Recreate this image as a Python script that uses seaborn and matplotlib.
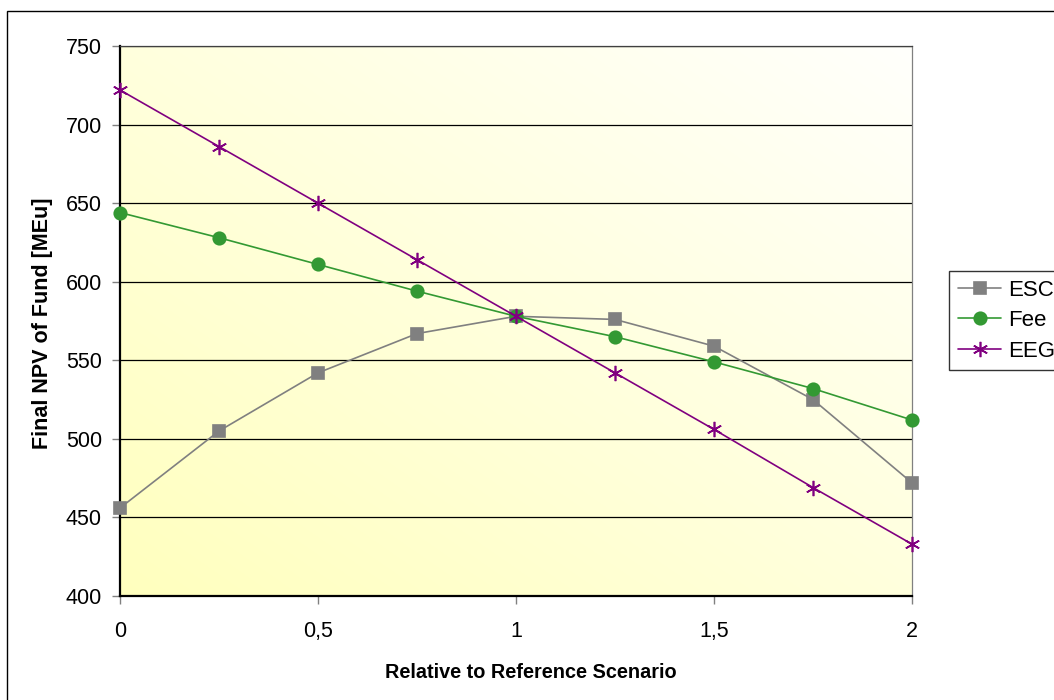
import numpy as np
import pandas as pd
import matplotlib
matplotlib.use("Agg")
import matplotlib.pyplot as plt
from matplotlib.patches import Rectangle
from matplotlib.lines import Line2D
import seaborn as sns

# Sensitivity factor relative to the reference scenario
factor = [0, 0.25, 0.5, 0.75, 1.0, 1.25, 1.5, 1.75, 2.0]

# Final NPV of fund [MEu] per sensitivity parameter
esc = [456, 505, 542, 567, 578, 576, 559, 525, 472]
fee = [644, 628, 611, 594, 578, 565, 549, 532, 512]
eeg = [722, 686, 650, 614, 578, 542, 506, 469, 433]

series_names = ["ESC", "Fee", "EEG"]
xtick_values = [0, 0.5, 1, 1.5, 2]
xtick_labels = ["0", "0,5", "1", "1,5", "2"]
ytick_values = [400, 450, 500, 550, 600, 650, 700, 750]

df = pd.DataFrame({
    "factor": factor * 3,
    "npv": esc + fee + eeg,
    "series": [n for n in series_names for _ in factor],
})

sns.set_theme(style="white")
plt.rcParams["font.family"] = ["Liberation Sans", "DejaVu Sans"]
plt.rcParams["text.color"] = "black"
plt.rcParams["axes.labelcolor"] = "black"
plt.rcParams["xtick.color"] = "black"
plt.rcParams["ytick.color"] = "black"

fig = plt.figure(figsize=(10.54, 7.0), dpi=100)
ax = fig.add_axes([120 / 1054, 1 - 596 / 700, (912 - 120) / 1054, (596 - 46) / 700])

# Diagonal yellow-to-white fill of the plot area
n = 256
gx, gy = np.meshgrid(np.linspace(0, 1, n), np.linspace(0, 1, n))
t = (gx + gy) / 2.0
c0 = np.array([255, 255, 190]) / 255.0
c1 = np.array([255, 255, 252]) / 255.0
img = c0[None, None, :] * (1 - t[..., None]) + c1[None, None, :] * t[..., None]
ax.imshow(img, extent=[0, 1, 0, 1], transform=ax.transAxes, origin="lower",
          aspect="auto", zorder=0, interpolation="bilinear")

styles = {
    "ESC": dict(color="#808080", marker="s", ms=8),
    "Fee": dict(color="#339933", marker="o", ms=9),
    "EEG": dict(color="#800080", marker=(6, 2, 0), ms=11),
}

handles = []
for name in series_names:
    st = styles[name]
    sub = df[df["series"] == name]
    sns.lineplot(data=sub, x="factor", y="npv", ax=ax, color=st["color"],
                 marker=st["marker"], markersize=st["ms"],
                 markeredgecolor=st["color"], markerfacecolor=st["color"],
                 markeredgewidth=1.2, linewidth=1.2, legend=False, zorder=5,
                 clip_on=False)
    handles.append(Line2D([0], [0], color=st["color"], marker=st["marker"],
                          markersize=st["ms"], markeredgecolor=st["color"],
                          markerfacecolor=st["color"], markeredgewidth=1.2,
                          linewidth=1.2))

ax.set_xlim(0, 2)
ax.set_ylim(400, 750)
ax.set_xticks(xtick_values)
ax.set_xticklabels(xtick_labels)
ax.set_yticks(ytick_values)
ax.grid(False)
for v in ytick_values[1:]:
    ax.axhline(v, color="black", lw=0.9, zorder=1)

ax.tick_params(axis="both", which="major", direction="out", length=6, width=1,
               color="#808080", labelcolor="black", labelsize=15.5, pad=7,
               left=True, bottom=True)
ax.tick_params(axis="x", pad=12)

for side in ["left", "bottom"]:
    ax.spines[side].set_color("black")
    ax.spines[side].set_linewidth(1.6)
ax.spines["top"].set_color("#404040")
ax.spines["top"].set_linewidth(0.9)
ax.spines["right"].set_color("#808080")
ax.spines["right"].set_linewidth(0.9)
for s in ax.spines.values():
    s.set_zorder(4)

ax.set_xlabel("Relative to Reference Scenario", fontsize=14.3, fontweight="bold")
ax.set_ylabel("Final NPV of Fund [MEu]", fontsize=15.5, fontweight="bold")
ax.xaxis.set_label_coords(0.519, -0.121)
ax.yaxis.set_label_coords(-0.085, 0.496)

leg = fig.legend(handles, series_names, loc="upper left",
                 bbox_to_anchor=(949 / 1054, 1 - 271 / 700),
                 bbox_transform=fig.transFigure, frameon=True, fancybox=False,
                 fontsize=16, handlelength=1.95, handletextpad=0.3,
                 borderpad=0.4, labelspacing=0.42, borderaxespad=0)
leg.get_frame().set_edgecolor("black")
leg.get_frame().set_linewidth(1.0)

# Chart-area border
fig.patches.append(Rectangle((7 / 1054, -0.1), 1.2, 1 - 11 / 700 + 0.1,
                             transform=fig.transFigure, fill=False,
                             edgecolor="black", linewidth=1.0, clip_on=False))

fig.savefig("out.png", dpi=100)
